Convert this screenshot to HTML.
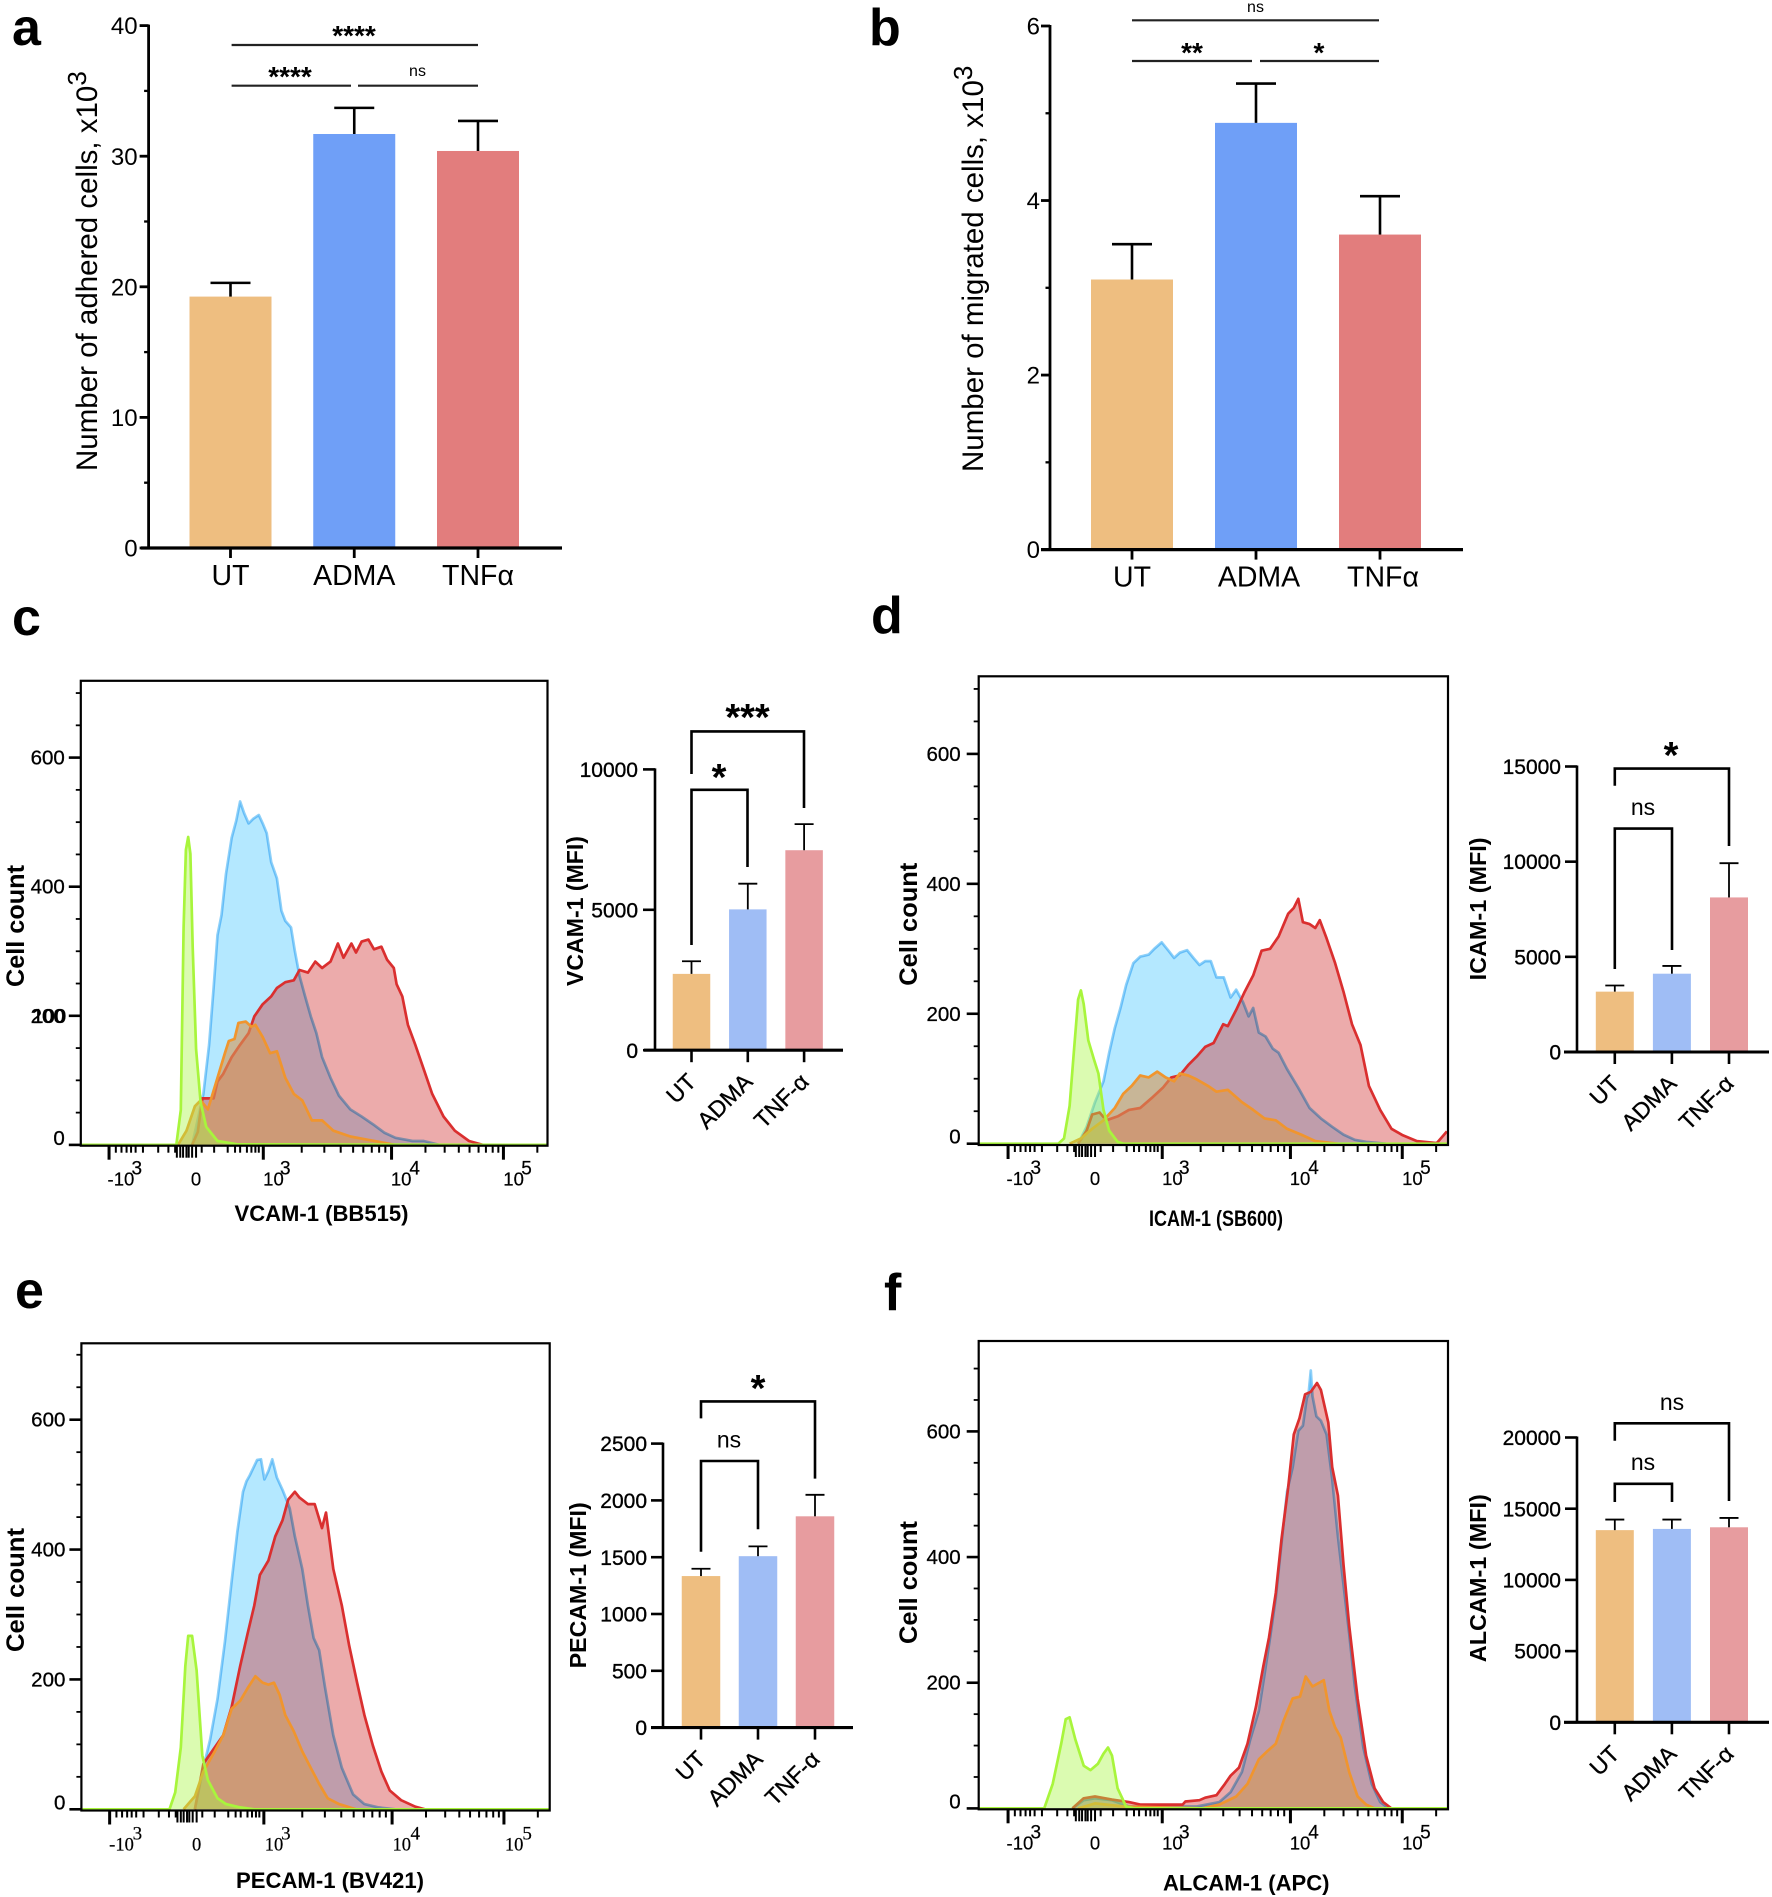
<!DOCTYPE html>
<html lang="en">
<head>
<meta charset="utf-8">
<title>Adhesion, migration and adhesion molecule expression</title>
<style>
html,body{margin:0;padding:0;background:#fff;}
svg{display:block;font-family:"Liberation Sans",sans-serif;}
</style>
</head>
<body>
<svg id="figure" xmlns="http://www.w3.org/2000/svg" width="1772" height="1897" viewBox="0 0 1772 1897">
<rect width="1772" height="1897" fill="#fff"/>
<text x="12" y="45" font-size="52" font-weight="700">a</text>
<text x="869" y="45" font-size="52" font-weight="700">b</text>
<text x="12" y="635" font-size="52" font-weight="700">c</text>
<text x="871" y="633" font-size="52" font-weight="700">d</text>
<text x="15" y="1308" font-size="52" font-weight="700">e</text>
<text x="884" y="1310" font-size="52" font-weight="700">f</text>
</svg>
<script>
// ---------- Bar chart data ----------
const topCategories = ['UT','ADMA','TNFα'];
const flowCategories = ['UT','ADMA','TNF-α'];

const aMeans = [19.25,31.7,30.4];
const aUpper = [20.3,33.7,32.7];
const aYTicks = [0,10,20,30,40];
const aYMinor = [5,15,25,35];

const bMeans = [3.095,4.89,3.61];
const bUpper = [3.5,5.34,4.05];
const bYTicks = [0,2,4,6];
const bYMinor = [1,3,5];

const cMeans = [2718,5015,7122];
const cUpper = [3169,5930,8052];
const cYTicks = [0,5000,10000];

const dMeans = [3171,4114,8121];
const dUpper = [3493,4521,9921];
const dYTicks = [0,5000,10000,15000];

const eMeans = [1334,1509,1860];
const eUpper = [1398,1595,2049];
const eYTicks = [0,500,1000,1500,2000,2500];

const fMeans = [13495,13580,13695];
const fUpper = [14237,14237,14350];
const fYTicks = [0,5000,10000,15000,20000];

// ---------- Flow histogram axis data ----------
const flowYTicks = [0,200,400,600];
const flowYMinor = [50,100,150,250,300,350,450,500,550,650,700];
const flowMajorCh = [52,325,552,750];
const flowMinorCh = [64,74,83,91,99,112,139,157,169,216,238,262,275,284,296,304,311,317,393,433,462,484,502,517,530,541,612,646,671,690,706,719,731,741,810];
const flowClusterCh = [172,178,183,189,193,199,206];
const flowXLabels = ['-10','0','10','10','10'];
const flowXSups = ['3','','3','4','5'];

// ---------- Panel c histograms (channel, count) ----------
const cBlueCh = [340,360,370,378,385,392,400,410,418,425,432,440,448,458,465,472,480,490,498,505,515,522,530,540,550,560,570,585,600,620,640,660,680,700,730,750,778];
const cBlueCount = [0,79,155,243,325,356,420,476,502,532,514,498,505,511,498,483,438,413,363,347,337,300,262,230,199,173,136,104,76,55,44,32,19,11,6,6,0];
const cRedCh = [340,350,358,378,385,395,410,425,440,450,465,480,490,505,520,530,545,558,570,585,598,608,622,630,640,652,662,675,685,697,702,712,722,735,750,765,785,805,830,855];
const cRedCount = [0,20,72,72,98,110,136,155,173,199,218,230,243,252,255,271,267,284,274,284,312,290,312,298,315,318,303,307,287,274,249,230,186,155,117,79,44,22,6,0];
const cOrangeCh = [315,330,345,355,368,385,398,405,415,422,435,445,452,465,478,490,505,520,535,552,570,590,620,650,700];
const cOrangeCount = [0,22,60,69,55,104,142,161,164,189,191,183,186,167,142,145,104,79,69,38,38,22,13,8,0];
const cGreenCh = [143,312,320,325,329,333,337,341,347,355,365,385,420,969];
const cGreenCount = [0,0,54,337,457,477,451,306,148,66,28,6,1,0];

// ---------- Panel d histograms ----------
const dBlueCh = [340,355,370,385,395,405,415,425,438,450,465,475,488,500,510,520,533,545,555,565,575,585,598,610,620,632,642,650,660,672,685,695,710,730,750,770,790,810,830,850,885];
const dBlueCount = [0,26,64,96,140,178,209,244,278,288,291,300,310,297,286,294,298,285,275,281,281,256,256,225,237,218,196,209,171,165,146,140,115,86,55,39,26,14,6,3,0];
const dRedCh = [340,355,365,378,390,410,430,450,470,490,505,520,535,550,565,580,597,605,620,635,650,665,680,695,712,722,730,738,750,760,768,780,795,810,825,840,855,875,895,915,940,975,985,993];
const dRedCount = [0,20,45,48,36,42,52,55,70,86,102,105,121,134,149,155,184,181,206,234,259,297,300,319,354,363,377,341,338,332,344,316,278,234,184,152,89,52,23,13,4,1,11,19];
const dOrangeCh = [325,345,365,385,405,420,435,450,465,480,495,510,520,535,550,570,585,605,630,650,670,690,710,735,760,800];
const dOrangeCount = [0,8,23,36,55,77,89,105,102,111,102,96,108,105,99,89,80,83,64,52,39,36,23,14,4,0];
const dGreenCh = [164,305,315,325,333,340,345,350,358,368,376,385,395,410,420,995];
const dGreenCount = [0,0,8,58,146,222,236,215,159,130,108,52,20,3,0,0];

// ---------- Panel e histograms ----------
const eBlueCh = [345,360,372,385,398,410,420,430,436,442,455,462,468,475,482,490,500,510,513,522,535,545,555,565,575,590,605,625,645,670,700];
const eBlueCount = [0,64,108,170,258,352,427,489,505,514,538,539,508,521,539,511,492,470,463,420,370,314,264,245,189,114,64,23,8,3,0];
const eRedCh = [345,360,375,395,410,425,438,450,460,475,487,500,510,522,530,545,557,570,577,590,605,618,632,645,660,675,690,710,735,752];
const eRedCount = [0,70,89,114,158,220,270,314,361,383,420,445,477,489,480,470,470,433,457,370,314,252,195,145,98,58,29,14,4,0];
const eOrangeCh = [325,345,360,380,395,410,425,440,452,465,475,485,495,505,520,535,550,565,580,600,630];
const eOrangeCount = [0,20,58,89,114,155,167,189,205,195,192,195,176,145,120,89,64,39,17,8,0];
const eGreenCh = [144,300,310,320,328,333,340,348,358,368,385,400,425,450,973];
const eGreenCount = [0,0,26,95,220,267,267,214,83,45,17,8,3,0,0];

// ---------- Panel f histograms ----------
const fBlueCh = [330,350,370,400,430,550,590,610,630,645,660,670,680,690,700,710,720,730,738,745,748,752,755,762,770,780,790,800,810,820,830,845,860,875,890];
const fBlueCount = [0,13,16,13,3,3,10,26,58,110,155,213,272,336,420,504,543,601,609,653,659,697,656,624,617,595,524,433,356,278,194,97,39,10,0];
const fRedCh = [330,350,370,400,430,450,525,530,555,565,585,600,610,625,640,655,668,678,690,700,712,722,732,742,752,763,770,783,790,800,810,820,835,850,865,880,895];
const fRedCount = [0,16,19,14,10,6,6,11,13,17,21,39,52,65,103,162,226,272,343,427,511,595,621,659,663,677,666,614,543,498,388,291,175,84,32,10,0];
const fOrangeCh = [340,370,420,560,590,620,640,660,675,690,705,720,733,743,755,775,785,795,805,820,835,850,865];
const fOrangeCount = [0,8,3,0,6,19,39,78,91,103,142,175,178,210,194,204,155,129,113,58,19,6,0];
const fGreenCh = [164,280,295,310,318,325,335,350,362,375,385,393,400,410,425,440,995];
const fGreenCount = [0,0,39,103,142,145,110,68,61,71,87,97,84,32,3,0,0];

// ---------- Helpers ----------
const SVG_NS = 'http://www.w3.org/2000/svg';
const root = document.getElementById('figure');

function add(parent, tag, attrs, nm, content) {
  const el = document.createElementNS(SVG_NS, tag);
  for (const k in attrs) el.setAttribute(k, attrs[k]);
  
  
  if (content !== undefined) el.textContent = content;
  parent.appendChild(el);
  return el;
}

function line(parent, x1, y1, x2, y2, w, nm, color) {
  return add(parent, 'line', {x1:x1, y1:y1, x2:x2, y2:y2, stroke:color || '#000', 'stroke-width':w}, nm);
}

// ---------- Bar panel ----------
function drawBars(p) {
  const g = add(root, 'g', {}, 'panel-' + p.id + '-bar-chart');
  const yScale = v => p.y0 + (p.yTop - p.y0) * v / p.vMax;
  const xCenter = i => p.firstCenter + i * p.step;

  p.means.forEach((m, i) => {
    const top = yScale(m);
    add(g, 'rect', {x:xCenter(i) - p.barW / 2, y:top, width:p.barW, height:p.y0 - top, fill:p.colors[i]}, 'bar-' + p.id + '-' + p.categories[i]);
    const up = yScale(p.upper[i]);
    line(g, xCenter(i), top, xCenter(i), up, p.errW, 'error-stem-' + p.id + '-' + p.categories[i]);
    line(g, xCenter(i) - p.capW / 2, up, xCenter(i) + p.capW / 2, up, p.errW, 'error-cap-' + p.id + '-' + p.categories[i]);
  });

  line(g, p.axisX, yScale(p.vMax) - 1, p.axisX, p.y0 + 1, p.axisW, 'y-axis-' + p.id);
  line(g, p.xFrom, p.y0, p.xTo, p.y0, p.axisW + 0.5, 'x-axis-' + p.id);

  p.yTicks.forEach(v => {
    line(g, p.axisX - p.yTickLen, yScale(v), p.axisX, yScale(v), p.axisW, 'y-tick-' + p.id + '-' + v);
    add(g, 'text', {x:p.axisX - p.yLabelGap, y:yScale(v) + p.tickFont * 0.36, 'font-size':p.tickFont, 'text-anchor':'end', stroke:p.labelStroke || 'none', 'stroke-width':0.35}, 'y-tick-label-' + p.id + '-' + v, String(v));
  });
  (p.yMinor || []).forEach(v => {
    line(g, p.axisX - p.yTickLen / 2, yScale(v), p.axisX, yScale(v), p.axisW - 0.5, 'y-minor-tick-' + p.id + '-' + v);
  });

  p.categories.forEach((c, i) => {
    line(g, xCenter(i), p.y0, xCenter(i), p.y0 + p.xTickLen, p.axisW, 'x-tick-' + p.id + '-' + c);
    if (p.rotateLabels) {
      const ax = xCenter(i) + 6, ay = p.y0 + 33;
      add(g, 'text', {transform:'translate(' + ax + ',' + ay + ') rotate(-45)', 'font-size':23, 'text-anchor':'end', stroke:'#000', 'stroke-width':0.35}, 'x-tick-label-' + p.id + '-' + c, c);
    } else {
      add(g, 'text', {x:xCenter(i) + p.labelDx[i], y:p.y0 + 37, 'font-size':28.5, 'text-anchor':'middle'}, 'x-tick-label-' + p.id + '-' + c, c);
    }
  });

  if (p.titleSup) {
    const t = add(g, 'text', {transform:'translate(' + p.titleX + ',' + p.titleBottom + ') rotate(-90)', 'font-size':29.5}, 'y-axis-title-' + p.id, p.title);
    const s = document.createElementNS(SVG_NS, 'tspan');
    s.setAttribute('dy', '-11');
    s.setAttribute('font-size', '26');
    
    
    s.textContent = p.titleSup;
    t.appendChild(s);
  } else {
    add(g, 'text', {transform:'translate(' + p.titleX + ',' + p.titleBottom + ') rotate(-90)', 'font-size':23, 'font-weight':700, textLength:p.titleLen, lengthAdjust:'spacingAndGlyphs'}, 'y-axis-title-' + p.id, p.title);
  }

  (p.sigLines || []).forEach((s, i) => {
    line(g, s.x1, s.y, s.x2, s.y, 2.2, 'significance-line-' + p.id + '-' + i, '#222');
    drawSig(g, s.tx, s.ty, s.label, s.size, p.id + '-' + i);
  });
  (p.brackets || []).forEach((b, i) => {
    add(g, 'polyline', {points:b.x1 + ',' + b.b1 + ' ' + b.x1 + ',' + b.top + ' ' + b.x2 + ',' + b.top + ' ' + b.x2 + ',' + b.b2, fill:'none', stroke:'#000', 'stroke-width':2.6}, 'significance-bracket-' + p.id + '-' + i);
    drawSig(g, b.tx, b.ty, b.label, b.size, p.id + '-' + i);
  });
}

function drawSig(g, x, cy, label, size, key) {
  const isStar = label.indexOf('*') >= 0;
  const baseline = isStar ? cy + size * 0.47 : cy + size * 0.3;
  add(g, 'text', {x:x, y:baseline, 'font-size':size, 'font-weight':isStar ? 700 : 400, 'text-anchor':'middle'}, 'significance-label-' + key, label);
}

// ---------- Flow histogram panel ----------
function drawFlow(p) {
  const g = add(root, 'g', {style:'isolation:isolate'}, 'panel-' + p.id + '-histogram');
  const x = ch => p.left + (ch - p.chMin) * (p.right - p.left) / (p.chMax - p.chMin);
  const y = n => p.y0 + (p.y600 - p.y0) * n / 600;
  const tx = t => x(p.chMin + t + p.tickShift);

  function curve(chs, counts) {
    const n = Math.min(chs.length, counts.length);
    let d = '';
    for (let i = 0; i < n; i++) d += (i ? 'L' : 'M') + x(chs[i]).toFixed(1) + ' ' + y(counts[i]).toFixed(1);
    return d;
  }
  function fill(chs, counts, nm, color) {
    const n = Math.min(chs.length, counts.length);
    const d = curve(chs, counts) + 'L' + x(chs[n - 1]).toFixed(1) + ' ' + y(0) + 'L' + x(chs[0]).toFixed(1) + ' ' + y(0) + 'Z';
    add(g, 'path', {d:d, fill:color, stroke:'none'}, 'histogram-fill-' + nm);
  }
  function outline(chs, counts, nm, color, blend) {
    add(g, 'path', {d:curve(chs, counts), fill:'none', stroke:color, 'stroke-width':2.7, 'stroke-linejoin':'round', style:blend ? 'mix-blend-mode:multiply' : ''}, 'histogram-line-' + nm);
  }

  fill(p.blue[0], p.blue[1], p.id + '-blue', '#b4e8ff');
  fill(p.red[0], p.red[1], p.id + '-red', 'rgba(207,45,45,0.4)');
  outline(p.blue[0], p.blue[1], p.id + '-blue', '#8ed0f8', true);
  outline(p.red[0], p.red[1], p.id + '-red', '#da2f2f', false);
  fill(p.orange[0], p.orange[1], p.id + '-orange', 'rgba(213,151,87,0.62)');
  outline(p.orange[0], p.orange[1], p.id + '-orange', '#f0952e', false);
  fill(p.green[0], p.green[1], p.id + '-green', 'rgba(170,245,70,0.42)');
  outline(p.green[0], p.green[1], p.id + '-green', '#a8f53c', false);

  add(g, 'rect', {x:p.left, y:p.top, width:p.right - p.left, height:p.bottom - p.top, fill:'none', stroke:'#000', 'stroke-width':2.2}, 'plot-frame-' + p.id);

  flowYTicks.forEach(v => {
    line(g, p.left - 12, y(v), p.left, y(v), 2.6, 'y-tick-' + p.id + '-' + v);
    const dy = v === 0 ? -7 : 0;
    add(g, 'text', {x:p.left - p.labelGap, y:y(v) + 7 + dy, 'font-size':20.5, 'text-anchor':'end', stroke:'#000', 'stroke-width':0.3}, 'y-tick-label-' + p.id + '-' + v, String(v));
    if (v === 200 && p.overlap200) {
      add(g, 'text', {x:p.left - p.labelGap + 1.5, y:y(v) + 7, 'font-size':20.5, 'text-anchor':'end', stroke:'#000', 'stroke-width':0.3}, 'y-tick-label-overlap-' + p.id, '100');
    }
  });
  flowYMinor.forEach(v => {
    line(g, p.left - 5, y(v), p.left, y(v), 1.8, 'y-minor-tick-' + p.id + '-' + v);
  });

  flowMajorCh.forEach(t => {
    line(g, tx(t), p.bottom, tx(t), p.bottom + 14, 3, 'x-major-tick-' + p.id);
  });
  flowMinorCh.forEach(t => {
    line(g, tx(t), p.bottom, tx(t), p.bottom + 7, 2, 'x-minor-tick-' + p.id);
  });
  flowClusterCh.forEach(t => {
    line(g, tx(t), p.bottom, tx(t), p.bottom + 12, 2, 'x-cluster-tick-' + p.id);
  });

  const labelCh = [73,206,343,569,768];
  const supCh = [101,0,364,593,791];
  flowXLabels.forEach((txt, i) => {
    add(g, 'text', {x:tx(labelCh[i]), y:p.bottom + 40, 'font-size':18.5, 'text-anchor':'middle', 'font-family':p.tickFamily, stroke:'#000', 'stroke-width':0.2}, 'x-tick-label-' + p.id + '-' + i, txt);
    if (flowXSups[i]) {
      add(g, 'text', {x:tx(supCh[i]), y:p.bottom + 29, 'font-size':19, 'text-anchor':'middle', 'font-family':p.tickFamily, stroke:'#000', 'stroke-width':0.2}, 'x-tick-exponent-' + p.id + '-' + i, flowXSups[i]);
    }
  });

  add(g, 'text', {x:p.titleX, y:p.titleY, 'font-size':22, 'font-weight':700, textLength:p.titleLen, lengthAdjust:'spacingAndGlyphs'}, 'x-axis-title-' + p.id, p.title);
  add(g, 'text', {transform:'translate(' + p.cellX + ',' + p.cellBottom + ') rotate(-90)', 'font-size':25, 'font-weight':700, textLength:p.cellLen, lengthAdjust:'spacingAndGlyphs'}, 'y-axis-title-' + p.id, 'Cell count');
}

// ---------- Panels ----------
const strongColors = ['#EEBE80','#6F9FF7','#E27D7D'];
const softColors = ['#EEBE80','#9FBDF5','#E79C9F'];

drawBars({id:'a', categories:topCategories, means:aMeans, upper:aUpper, yTicks:aYTicks, yMinor:aYMinor, vMax:40, colors:strongColors,
  axisX:148.6, y0:548, yTop:25.6, firstCenter:230.5, step:123.75, barW:82, capW:40, errW:2.6, axisW:2.8, xFrom:141, xTo:562, yTickLen:9, xTickLen:10, yLabelGap:11, tickFont:24, labelDx:[0,0,0],
  title:'Number of adhered cells, x10', titleSup:'3', titleX:97, titleBottom:471,
  sigLines:[{x1:231.6,x2:478,y:45,label:'****',tx:354,ty:32,size:28},{x1:231.6,x2:351,y:85.7,label:'****',tx:290,ty:73,size:28},{x1:358,x2:478,y:85.7,label:'ns',tx:417.5,ty:71,size:16}]});

drawBars({id:'b', categories:topCategories, means:bMeans, upper:bUpper, yTicks:bYTicks, yMinor:bYMinor, vMax:6, colors:strongColors,
  axisX:1050, y0:549.6, yTop:26, firstCenter:1132, step:124, barW:82, capW:40, errW:2.6, axisW:2.8, xFrom:1041, xTo:1463, yTickLen:9, xTickLen:10, yLabelGap:10, tickFont:24, labelDx:[0,3,3],
  title:'Number of migrated cells, x10', titleSup:'3', titleX:983, titleBottom:472,
  sigLines:[{x1:1132,x2:1379,y:20.3,label:'ns',tx:1255.5,ty:7,size:16},{x1:1132,x2:1252,y:61,label:'**',tx:1192,ty:49,size:28},{x1:1260,x2:1379,y:61,label:'*',tx:1319,ty:49,size:28}]});

drawBars({id:'c', categories:flowCategories, means:cMeans, upper:cUpper, yTicks:cYTicks, vMax:10000, colors:softColors,
  axisX:655, y0:1050.2, yTop:769.4, firstCenter:691.5, step:56.3, barW:37.5, capW:19, errW:1.8, axisW:2.6, xFrom:644, xTo:843, yTickLen:12, xTickLen:12, yLabelGap:17, tickFont:21, labelDx:[0,0,0], rotateLabels:true, labelStroke:'#000',
  title:'VCAM-1 (MFI)', titleX:583, titleBottom:986, titleLen:150,
  brackets:[{x1:691.5,x2:804,top:731.4,b1:774,b2:808,label:'***',tx:747.5,ty:712,size:38},{x1:691.5,x2:747.5,top:789.8,b1:945,b2:867,label:'*',tx:719,ty:772,size:38}]});

drawBars({id:'d', categories:flowCategories, means:dMeans, upper:dUpper, yTicks:dYTicks, vMax:15000, colors:softColors,
  axisX:1577, y0:1052, yTop:766.5, firstCenter:1614.8, step:57.1, barW:38, capW:19, errW:1.8, axisW:2.6, xFrom:1564, xTo:1769, yTickLen:12, xTickLen:12, yLabelGap:16, tickFont:21, labelDx:[0,0,0], rotateLabels:true, labelStroke:'#000',
  title:'ICAM-1 (MFI)', titleX:1486, titleBottom:980.4, titleLen:143,
  brackets:[{x1:1614.8,x2:1729,top:768.6,b1:785.7,b2:846,label:'*',tx:1671,ty:750,size:38},{x1:1614.8,x2:1672,top:828.6,b1:969,b2:950,label:'ns',tx:1643,ty:808,size:23}]});

drawBars({id:'e', categories:flowCategories, means:eMeans, upper:eUpper, yTicks:eYTicks, vMax:2500, colors:softColors,
  axisX:663, y0:1727.6, yTop:1443.6, firstCenter:701, step:57, barW:38.5, capW:19, errW:1.8, axisW:2.6, xFrom:651, xTo:853, yTickLen:12, xTickLen:12, yLabelGap:16, tickFont:21, labelDx:[0,0,0], rotateLabels:true, labelStroke:'#000',
  title:'PECAM-1 (MFI)', titleX:586, titleBottom:1668.3, titleLen:166,
  brackets:[{x1:701,x2:815,top:1401.4,b1:1418.4,b2:1478.6,label:'*',tx:758,ty:1383,size:38},{x1:701,x2:758,top:1461,b1:1551.7,b2:1529.3,label:'ns',tx:729,ty:1440.8,size:23}]});

drawBars({id:'f', categories:flowCategories, means:fMeans, upper:fUpper, yTicks:fYTicks, vMax:20000, colors:softColors,
  axisX:1577, y0:1722.3, yTop:1437.5, firstCenter:1614.8, step:57.1, barW:38, capW:19, errW:1.8, axisW:2.6, xFrom:1564, xTo:1769, yTickLen:12, xTickLen:12, yLabelGap:16, tickFont:21, labelDx:[0,0,0], rotateLabels:true, labelStroke:'#000',
  title:'ALCAM-1 (MFI)', titleX:1486, titleBottom:1662.2, titleLen:168,
  brackets:[{x1:1614.8,x2:1729,top:1423.3,b1:1440.8,b2:1501,label:'ns',tx:1672,ty:1403,size:23},{x1:1614.8,x2:1672,top:1483.8,b1:1502,b2:1502,label:'ns',tx:1643,ty:1463,size:23}]});

drawFlow({id:'c', left:80.8, right:547.5, top:680.8, bottom:1145.7, y0:1144.9, y600:757.6, chMin:143, chMax:969, tickShift:-2, labelGap:16, overlap200:true,
  blue:[cBlueCh,cBlueCount], red:[cRedCh,cRedCount], orange:[cOrangeCh,cOrangeCount], green:[cGreenCh,cGreenCount],
  title:'VCAM-1 (BB515)', titleX:234.5, titleY:1221, titleLen:174, cellX:24, cellBottom:987, cellLen:122, tickFamily:'Liberation Sans'});

drawFlow({id:'d', left:978.7, right:1448, top:676.3, bottom:1145, y0:1143.7, y600:753.9, chMin:164, chMax:995, tickShift:0, labelGap:18,
  blue:[dBlueCh,dBlueCount], red:[dRedCh,dRedCount], orange:[dOrangeCh,dOrangeCount], green:[dGreenCh,dGreenCount],
  title:'ICAM-1 (SB600)', titleX:1149, titleY:1226, titleLen:134, cellX:917, cellBottom:985.7, cellLen:123, tickFamily:'Liberation Sans'});

drawFlow({id:'e', left:81.4, right:549.7, top:1343.3, bottom:1810.5, y0:1809.3, y600:1419.7, chMin:144, chMax:973, tickShift:-2, labelGap:16,
  blue:[eBlueCh,eBlueCount], red:[eRedCh,eRedCount], orange:[eOrangeCh,eOrangeCount], green:[eGreenCh,eGreenCount],
  title:'PECAM-1 (BV421)', titleX:236, titleY:1888, titleLen:188, cellX:24, cellBottom:1652, cellLen:124, tickFamily:'Liberation Serif'});

drawFlow({id:'f', left:978.7, right:1448, top:1341, bottom:1809.3, y0:1808.4, y600:1431.4, chMin:164, chMax:995, tickShift:0, labelGap:18,
  blue:[fBlueCh,fBlueCount], red:[fRedCh,fRedCount], orange:[fOrangeCh,fOrangeCount], green:[fGreenCh,fGreenCount],
  title:'ALCAM-1 (APC)', titleX:1163, titleY:1890.5, titleLen:166.5, cellX:917, cellBottom:1644, cellLen:123, tickFamily:'Liberation Sans'});
</script>
</body>
</html>
